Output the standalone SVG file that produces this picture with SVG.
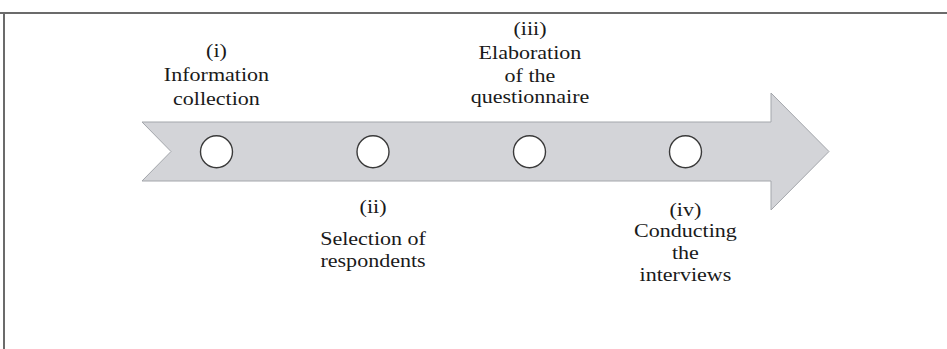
<svg xmlns="http://www.w3.org/2000/svg" width="947" height="349" viewBox="0 0 947 349">
<style>
.frame{stroke:#6b6b6b;stroke-width:2;fill:none}
.arrow{fill:#d3d4d8;stroke:#a3a6ab;stroke-width:1}
.dot{fill:#ffffff;stroke:#3a3a3a;stroke-width:1.4}
text{font-family:"Liberation Serif","Times New Roman",serif;font-size:19px;fill:#1a1a1a;text-anchor:middle}
</style>
<rect width="947" height="349" fill="#ffffff"/>
<path class="frame" d="M0,13 H947 M4,13 V349"/>
<g id="connectors">
<polygon class="arrow" points="142,122 771,122 771,93 829,151.5 771,210 771,181 142,181 171,151.5"/>
</g>
<g id="node-i">
<circle class="dot" cx="216.5" cy="151.7" r="16"/>
<g transform="scale(1.16 1)">
<text x="186.6" y="57">(i)</text>
<text x="186.6" y="81">Information</text>
<text x="186.6" y="105">collection</text>
</g>
</g>
<g id="node-ii">
<circle class="dot" cx="373" cy="151.7" r="16"/>
<g transform="scale(1.16 1)">
<text x="321.6" y="213">(ii)</text>
<text x="321.6" y="245">Selection of</text>
<text x="321.6" y="267">respondents</text>
</g>
</g>
<g id="node-iii">
<circle class="dot" cx="529.5" cy="151.7" r="16"/>
<g transform="scale(1.16 1)">
<text x="456.9" y="35">(iii)</text>
<text x="456.9" y="59">Elaboration</text>
<text x="456.9" y="82">of the</text>
<text x="456.9" y="103">questionnaire</text>
</g>
</g>
<g id="node-iv">
<circle class="dot" cx="685.5" cy="151.7" r="16"/>
<g transform="scale(1.16 1)">
<text x="590.9" y="216">(iv)</text>
<text x="590.9" y="237">Conducting</text>
<text x="590.9" y="259">the</text>
<text x="590.9" y="281">interviews</text>
</g>
</g>
</svg>
